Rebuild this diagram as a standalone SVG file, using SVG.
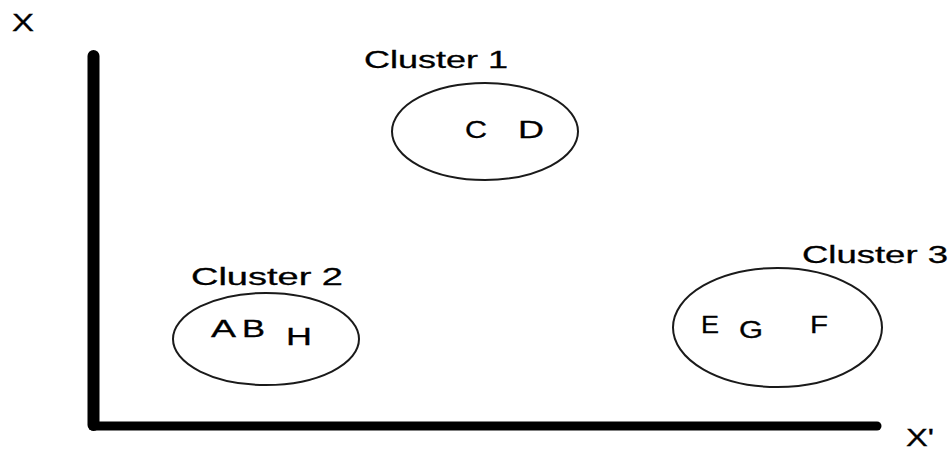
<svg xmlns="http://www.w3.org/2000/svg" width="949" height="450" viewBox="0 0 949 450">
<style>
text{font-family:"Liberation Sans",Arial,sans-serif;font-size:23px;fill:#000;stroke:#000;stroke-width:0.3;}
.cl{fill:none;stroke:#1a1a1a;stroke-width:2;}
.ax{stroke:#000;stroke-linecap:round;fill:none;}
</style>
<rect width="949" height="450" fill="#fff"/>
<g id="axes" class="connectors">
<line class="ax" x1="93.5" y1="56" x2="93.5" y2="425" stroke-width="12"/>
<line class="ax" x1="93" y1="426" x2="877" y2="426" stroke-width="9"/>
<text x="12" y="31" textLength="22" lengthAdjust="spacingAndGlyphs">X</text>
<text x="906" y="446" textLength="28" lengthAdjust="spacingAndGlyphs">X'</text>
</g>
<g id="cluster1">
<ellipse class="cl" cx="485" cy="131.5" rx="93" ry="48.5"/>
<text x="364" y="68" textLength="144" lengthAdjust="spacingAndGlyphs">Cluster 1</text>
<text x="465" y="138" textLength="22" lengthAdjust="spacingAndGlyphs">C</text>
<text x="518" y="138" textLength="26" lengthAdjust="spacingAndGlyphs">D</text>
</g>
<g id="cluster2">
<ellipse class="cl" cx="266" cy="339" rx="93" ry="46"/>
<text x="191" y="285" textLength="152" lengthAdjust="spacingAndGlyphs">Cluster 2</text>
<text x="211" y="337" textLength="25" lengthAdjust="spacingAndGlyphs">A</text>
<text x="242" y="337" textLength="23" lengthAdjust="spacingAndGlyphs">B</text>
<text x="286" y="345" textLength="26" lengthAdjust="spacingAndGlyphs">H</text>
</g>
<g id="cluster3">
<ellipse class="cl" cx="777.5" cy="327.5" rx="104.5" ry="59.5"/>
<text x="802" y="263" textLength="146" lengthAdjust="spacingAndGlyphs">Cluster 3</text>
<text x="701" y="333" textLength="18" lengthAdjust="spacingAndGlyphs">E</text>
<text x="739" y="338" textLength="24" lengthAdjust="spacingAndGlyphs">G</text>
<text x="810" y="333" textLength="18" lengthAdjust="spacingAndGlyphs">F</text>
</g>
</svg>
